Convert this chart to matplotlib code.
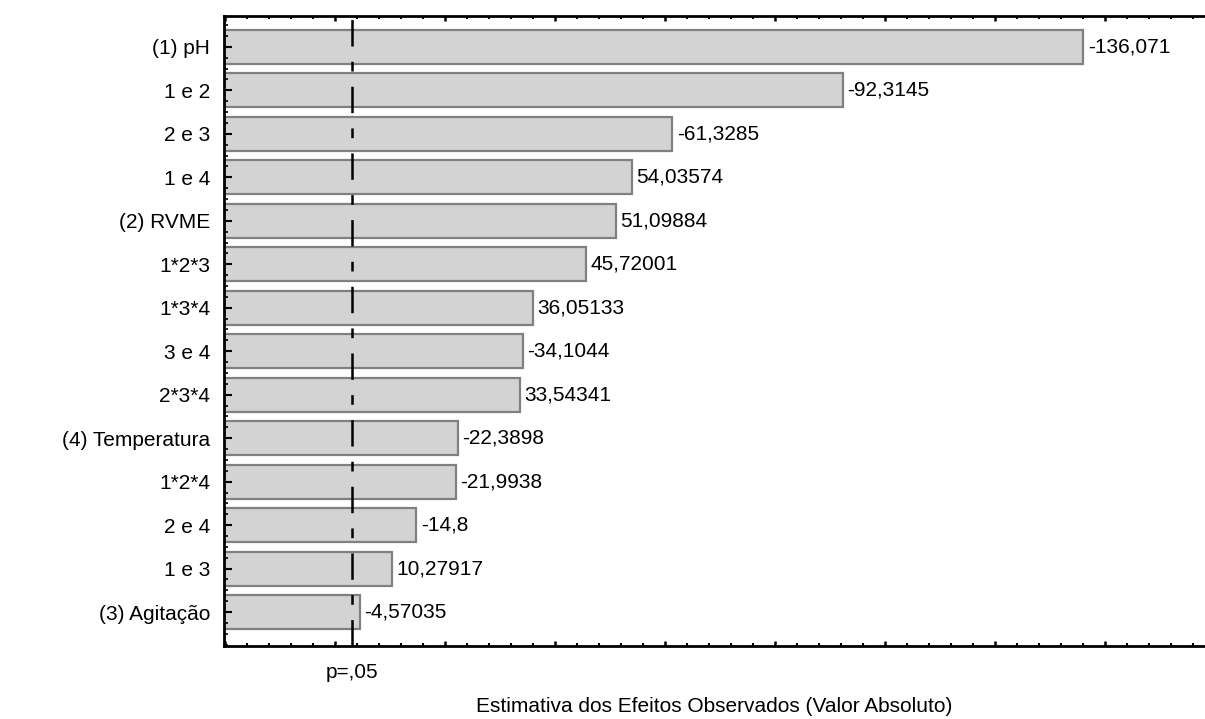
import numpy as np
import matplotlib
matplotlib.use('Agg')
import matplotlib.pyplot as plt
from matplotlib.ticker import MultipleLocator, NullFormatter

plt.rcParams['font.family'] = ['Liberation Sans', 'DejaVu Sans']
plt.rcParams['lines.scale_dashes'] = False

# data (standardized effects, Pareto order)
factors = ['(1) pH', '1 e 2', '2 e 3', '1 e 4', '(2) RVME', '1*2*3', '1*3*4',
           '3 e 4', '2*3*4', '(4) Temperatura', '1*2*4', '2 e 4', '1 e 3',
           '(3) Agitação']
effects = [-136.071, -92.3145, -61.3285, 54.03574, 51.09884, 45.72001, 36.05133,
           -34.1044, 33.54341, -22.3898, -21.9938, -14.8, 10.27917, -4.57035]
p_crit = 3.1
x_min, x_max = -20.2, 158.2

fs = 15

fig = plt.figure(figsize=(12.05, 7.19), dpi=100)
ax = fig.add_axes([224 / 1205, 1 - 646 / 719, 1 - 224 / 1205, (646 - 16) / 719])

pos = np.arange(len(factors))
absval = np.abs(effects)
ax.barh(pos, absval - x_min, left=x_min, height=0.78,
        color='#d3d3d3', edgecolor='#808080', linewidth=1.6)

for y, v, a in zip(pos, effects, absval):
    ax.text(a + 0.8, y, f'{v}'.replace('.', ','), ha='left', va='center',
            fontsize=fs, color='black')

ax.axvline(p_crit, color='black', linewidth=1.8, linestyle=(0, (19, 11, 7, 11)))

ax.set_xlim(x_min, x_max)
ax.set_ylim(13.78, -0.71)

ax.set_yticks(pos)
ax.set_yticklabels(factors, fontsize=fs)
ax.yaxis.set_minor_locator(MultipleLocator(0.25))
ax.xaxis.set_major_locator(MultipleLocator(20))
ax.xaxis.set_minor_locator(MultipleLocator(4))
ax.xaxis.set_major_formatter(NullFormatter())

ax.tick_params(axis='y', which='major', direction='in', length=6, width=1.5, pad=10)
ax.tick_params(axis='y', which='minor', direction='in', length=3, width=1.2)
ax.tick_params(axis='x', which='major', direction='in', length=3.5, width=1.8,
               top=True, bottom=True)
ax.tick_params(axis='x', which='minor', direction='in', length=2.5, width=1.5,
               top=True, bottom=True)

for s in ['left', 'bottom', 'top']:
    ax.spines[s].set_linewidth(2)
ax.spines['right'].set_visible(False)

ax.text(p_crit, -26 / 630, 'p=,05', transform=ax.get_xaxis_transform(),
        ha='center', va='center', fontsize=fs)
ax.set_xlabel('Estimativa dos Efeitos Observados (Valor Absoluto)', fontsize=fs)
ax.xaxis.set_label_coords(0.5, -60 / 630)
ax.xaxis.label.set_va('center')

fig.savefig('out.png', dpi=100)
